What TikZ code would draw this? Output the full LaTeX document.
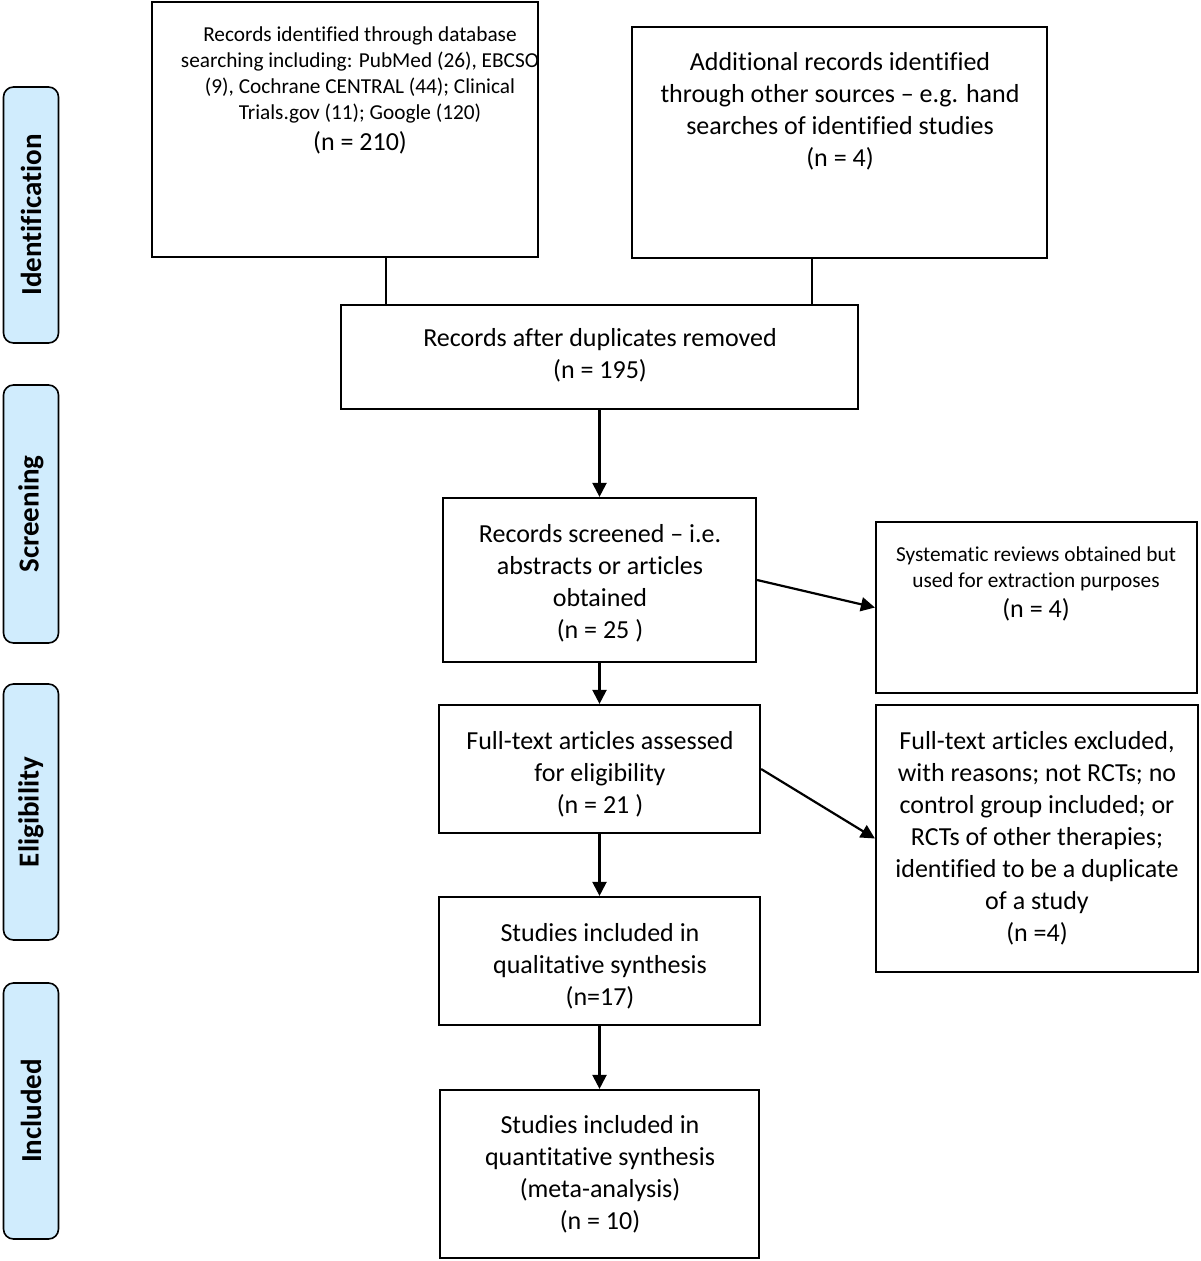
\documentclass[tikz,border=0pt]{standalone}
\usepackage{fontspec}
\setmainfont{Carlito}[Ligatures=NoCommon]
\usetikzlibrary{arrows.meta}
\definecolor{barfill}{RGB}{208,236,253}
\begin{document}
\begin{tikzpicture}[x=1pt,y=-1pt,
  box/.style={draw=black, line width=2.2pt, inner sep=0pt},
  txtbig/.style={inner sep=0pt, align=center, font=\fontsize{26}{32}\selectfont},
  txtsmall/.style={inner sep=0pt, align=center, font=\fontsize{21.3}{26}\selectfont},
  bar/.style={draw=black, line width=1.6pt, fill=barfill, rounded corners=10pt, minimum width=55pt, inner sep=0pt},
  barlabel/.style={rotate=90, font=\fontsize{29}{29}\selectfont\bfseries, inner sep=0pt},
  arr/.style={line width=2.2pt, -{Triangle[length=14pt,width=14pt]}},
  ln/.style={line width=2.2pt}]
\useasboundingbox (0,0) rectangle (1200,1261);
% side bars
\node[bar, minimum height=256pt] (bar1) at (31,215) {};
\node[bar, minimum height=258pt] (bar2) at (31,514) {};
\node[bar, minimum height=256pt] (bar3) at (31,812) {};
\node[bar, minimum height=256pt] (bar4) at (31,1111) {};
\node[barlabel] (l1) at (bar1.center) {Identification};
\node[barlabel] (l2) at (bar2.center) {Screening};
\node[barlabel] (l3) at (bar3.center) {Eligibility};
\node[barlabel] (l4) at (bar4.center) {Included};
% boxes
\node[box, minimum width=386pt, minimum height=255pt] (b1) at (345,129.5) {};
\node[txtsmall, anchor=north] (t1) at (360,27) {Records identified through database\\searching including: PubMed (26), EBCSO\\(9), Cochrane CENTRAL (44); Clinical\\Trials.gov (11); Google (120)\\[5pt]{\fontsize{26}{32}\selectfont (n = 210)}};
\node[box, minimum width=415pt, minimum height=231pt] (b2) at (839.5,142.5) {};
\node[txtbig, anchor=north] (t2) at (840,52) {Additional records identified\\through other sources – e.g. hand\\searches of identified studies\\(n = 4)};
\node[box, minimum width=517pt, minimum height=104pt] (b3) at (599.5,357) {};
\node[txtbig] (t3) at (600,355) {Records after duplicates removed\\(n = 195)};
\node[box, minimum width=313pt, minimum height=164pt] (b4) at (599.5,580) {};
\node[txtbig] (t4) at (600,583) {Records screened – i.e.\\abstracts or articles\\obtained\\(n = 25 )};
\node[box, minimum width=321pt, minimum height=171pt] (b5) at (1036.5,607.5) {};
\node[txtsmall, anchor=north] (t5) at (1036,547) {Systematic reviews obtained but\\used for extraction purposes\\[4pt]{\fontsize{26}{32}\selectfont (n = 4)}};
\node[box, minimum width=321pt, minimum height=128pt] (b6) at (599.5,769) {};
\node[txtbig] (t6) at (600,774) {Full-text articles assessed\\for eligibility\\(n = 21 )};
\node[box, minimum width=322pt, minimum height=267pt] (b7) at (1037,838.5) {};
\node[txtbig] (t7) at (1037,838) {Full-text articles excluded,\\with reasons; not RCTs; no\\control group included; or\\RCTs of other therapies;\\identified to be a duplicate\\of a study\\(n =4)};
\node[box, minimum width=321pt, minimum height=128pt] (b8) at (599.5,961) {};
\node[txtbig] (t8) at (600,966) {Studies included in\\qualitative synthesis\\(n=17)};
\node[box, minimum width=319pt, minimum height=168pt] (b9) at (599.5,1174) {};
\node[txtbig] (t9) at (600,1174) {Studies included in\\quantitative synthesis\\(meta-analysis)\\(n = 10)};
% connectors
\coordinate (c1) at (386,0);
\coordinate (c2) at (812,0);
\draw[ln] (b1.south -| c1) -- (b3.north -| c1);
\draw[ln] (b2.south -| c2) -- (b3.north -| c2);
\draw[arr] (b3.south) -- (b4.north);
\draw[arr] (b4.east) -- (b5.west);
\draw[arr] (b4.south) -- (b6.north);
\draw[arr] (b6.east) -- (b7.west);
\draw[arr] (b6.south) -- (b8.north);
\draw[arr] (b8.south) -- (b9.north);
\end{tikzpicture}
\end{document}
